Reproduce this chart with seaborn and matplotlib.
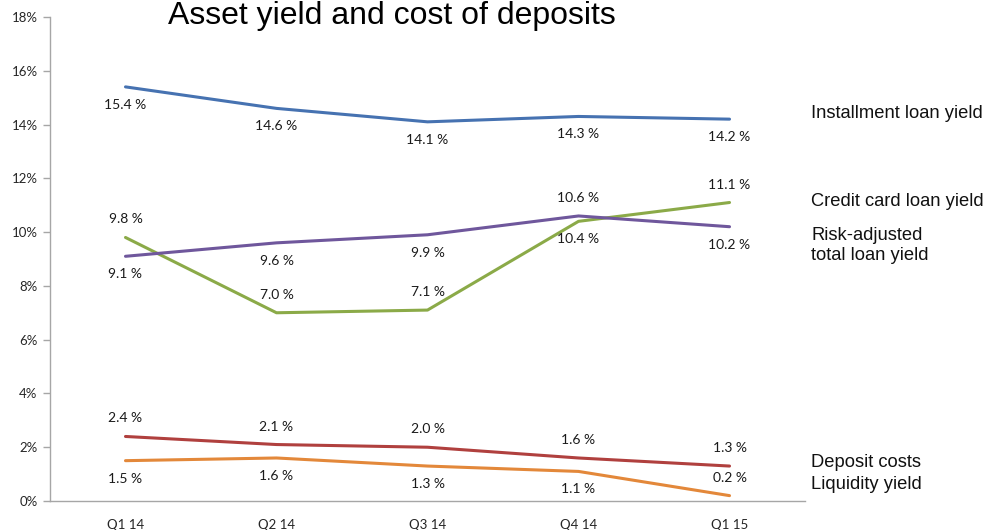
import matplotlib
matplotlib.use("Agg")
import matplotlib.pyplot as plt
import seaborn as sns
import pandas as pd
import numpy as np

quarters = ["Q1 14", "Q2 14", "Q3 14", "Q4 14", "Q1 15"]
installment_loan_yield = [15.4, 14.6, 14.1, 14.3, 14.2]
credit_card_loan_yield = [9.8, 7.0, 7.1, 10.4, 11.1]
risk_adjusted_total_loan_yield = [9.1, 9.6, 9.9, 10.6, 10.2]
deposit_costs = [2.4, 2.1, 2.0, 1.6, 1.3]
liquidity_yield = [1.5, 1.6, 1.3, 1.1, 0.2]

series_names = ["Installment loan yield", "Credit card loan yield",
                "Risk-adjusted\ntotal loan yield", "Deposit costs", "Liquidity yield"]
series_values = [installment_loan_yield, credit_card_loan_yield,
                 risk_adjusted_total_loan_yield, deposit_costs, liquidity_yield]
colors = ["#4672B1", "#8BAA48", "#6F579C", "#B0403E", "#E3883A"]
# label placement per point: +1 above the line, -1 below
label_side = [
    [-1, -1, -1, -1, -1],
    [1, 1, 1, -1, 1],
    [-1, -1, -1, 1, -1],
    [1, 1, 1, 1, 1],
    [-1, -1, -1, -1, 1],
]
# right-hand series names, vertical positions in data units
name_y = [14.4, 11.15, 9.5, 1.42, 0.6]

sns.set_style("white")
plt.rcParams["font.family"] = ["Liberation Sans", "DejaVu Sans"]

rows = []
for name, vals in zip(series_names, series_values):
    for i, v in enumerate(vals):
        rows.append({"x": i, "value": v, "series": name})
df = pd.DataFrame(rows)

fig = plt.figure(figsize=(9.88, 5.30), dpi=100)
ax = fig.add_axes([0.0506, 0.0547, 0.7642, 0.9133])

sns.lineplot(data=df, x="x", y="value", hue="series", hue_order=series_names,
             palette=colors, linewidth=2.2, legend=False, ax=ax, sort=False)

label_font = ["Lato", "DejaVu Sans"]
for vals, sides in zip(series_values, label_side):
    for i, (v, s) in enumerate(zip(vals, sides)):
        ax.annotate(f"{v:.1f} %", (i, v), xytext=(0, 18 * s), textcoords="offset pixels",
                    ha="center", va="center", fontsize=10, family=label_font,
                    color="#1a1a1a")

for name, yv in zip(series_names, name_y):
    ax.text(1.0 + 6 / 755, yv, name, transform=ax.get_yaxis_transform(),
            ha="left", va="center", fontsize=13.2, color="#111111",
            linespacing=1.3, clip_on=False)

ax.set_xlim(-0.5, 4.5)
ax.set_ylim(0, 18)
ax.set_yticks(np.arange(0, 19, 2))
ax.set_yticklabels([f"{t}%" for t in range(0, 19, 2)], family=label_font, fontsize=9.5)
ax.set_xticks(range(len(quarters)))
ax.set_xticklabels(quarters, family=label_font, fontsize=9.5)
ax.set_xticks(np.arange(-0.5, 5, 1), minor=True)
ax.tick_params(axis="x", which="major", length=0, pad=13)
ax.tick_params(axis="x", which="minor", length=5, color="#A6A6A6", width=1)
ax.tick_params(axis="y", which="major", length=5, color="#A6A6A6", width=1, left=True, pad=4)
ax.set_xlabel("")
ax.set_ylabel("")
for side in ["top", "right"]:
    ax.spines[side].set_visible(False)
for side in ["left", "bottom"]:
    ax.spines[side].set_color("#A6A6A6")
    ax.spines[side].set_linewidth(1)

fig.text(168 / 988, 1 - 24 / 530, "Asset yield and cost of deposits",
         ha="left", va="baseline", fontsize=23, color="#000000")

fig.savefig("out.png", dpi=100)
